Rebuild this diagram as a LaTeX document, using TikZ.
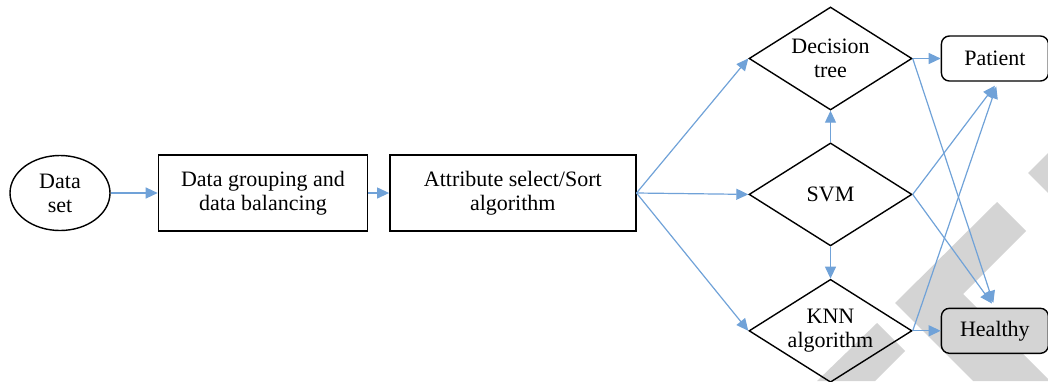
\documentclass[tikz,border=0pt]{standalone}
\usepackage{fontspec}
\setmainfont{Liberation Serif}
\usepackage{tikz}
\usetikzlibrary{shapes.geometric,arrows.meta,positioning}
\definecolor{flowblue}{RGB}{112,162,216}
\definecolor{markgray}{RGB}{212,212,212}
\newcommand{\tip}{Triangle[length=6pt,width=5.5pt]}

\tikzset{
  dataset/.style = {draw, ellipse, line width=0.7pt, minimum width=50pt, minimum height=37.5pt, inner sep=0pt, align=center},
  procbox/.style = {draw, rectangle, line width=0.7pt, minimum height=38pt, inner sep=0pt, align=center},
  classifier/.style = {draw, diamond, aspect=1.6, line width=0.7pt, minimum width=81.5pt, minimum height=51.5pt, inner sep=0pt, align=center},
  outcome/.style = {draw, rounded corners=4pt, line width=0.7pt, minimum width=53.5pt, minimum height=22.5pt, inner sep=0pt},
  flow/.style = {draw=flowblue, line width=0.6pt, -{\tip}},
}

\begin{document}
\begin{tikzpicture}[x=0.5pt, y=-0.5pt, font=\fontsize{11}{12}\selectfont]
        \useasboundingbox (0,0) rectangle (1048,381);
        % grey marks in the background
        \fill[markgray] (817,381) -- (877,323) -- (905,351) -- (875,381) -- cycle;
        \fill[markgray] (895,303) -- (997,202) -- (1026,231) -- (963,294) -- (1050,381) -- (973,381) -- cycle;
        \fill[markgray] (1028,173) -- (1048,153) -- (1048,193) -- cycle;
        % preprocessing chain
        \node[dataset] (ds) at (60,193) {Data\\set};
        \node[procbox, minimum width=104.5pt, right=23.5pt of ds] (grp) {Data grouping and\\data balancing};
        \node[procbox, minimum width=123pt, right=10.5pt of grp] (sel) {Attribute select/Sort\\algorithm};
        % classifiers
        \node[classifier] (dt) at (830.5,58.5) {Decision\\tree};
        \node[classifier, below=15.75pt of dt] (svm) {SVM};
        \node[classifier, below=16pt of svm] (knn) {KNN\\algorithm};
        % results
        \node[outcome, right=14pt of dt] (pat) {Patient};
        \node[outcome, fill=markgray, right=14pt of knn] (heal) {Healthy};
        %\draw[flow] (ds) -- (grp);
        \draw[flow] (ds.east) -- (grp.west);
        \draw[flow] (grp.east) -- (sel.west);
        \draw[flow] (sel.east) -- (dt.west);
        \draw[flow] (sel.east) -- (svm.west);
        \draw[flow] (sel.east) -- (knn.west);
        \draw[flow] (svm.north) -- (dt.south);
        \draw[flow] (svm.south) -- (knn.north);
        \draw[flow] (dt.east) -- (pat.west);
        \draw[flow, shorten >=2.5pt] (dt.east) -- (heal.north);
        \draw[flow, shorten >=2.5pt] (svm.east) -- ([xshift=1.5pt]pat.south);
        \draw[flow, shorten >=2.5pt] (svm.east) -- (heal.north);
        \draw[flow] (knn.east) -- (heal.west);
        \draw[flow, shorten >=2.5pt] (knn.east) -- ([xshift=1.5pt]pat.south);
    \end{tikzpicture}
\end{document}
